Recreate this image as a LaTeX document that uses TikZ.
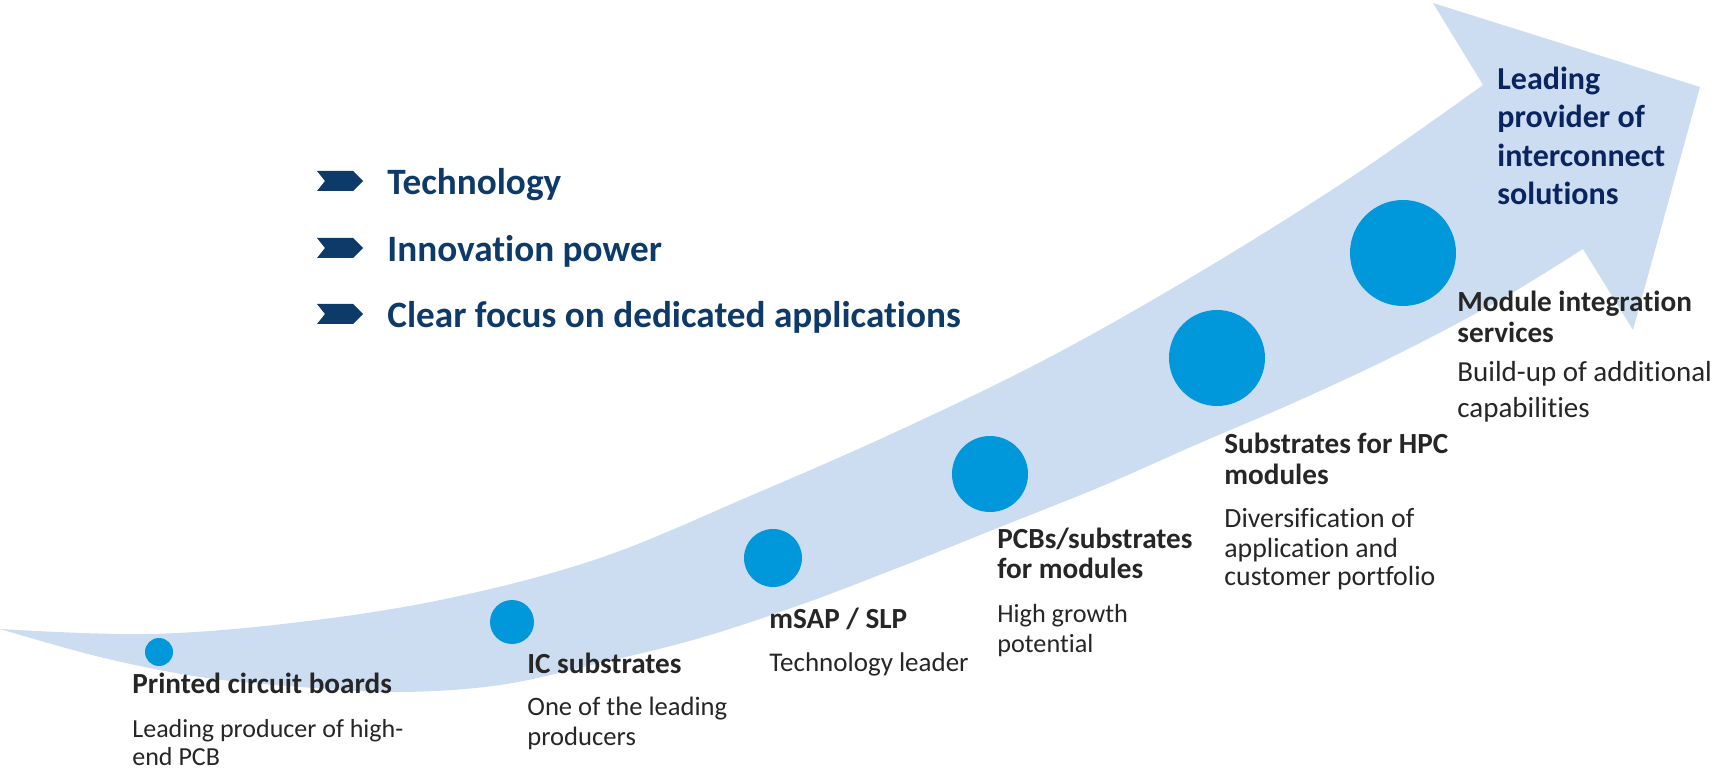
\documentclass[tikz,border=0pt]{standalone}
\usepackage{fontspec}
\setmainfont{Carlito}[Ligatures=NoCommon]
\definecolor{arrowfill}{RGB}{204,221,241}
\definecolor{dotblue}{RGB}{0,151,219}
\definecolor{navy}{RGB}{14,58,106}
\definecolor{deepnavy}{RGB}{10,36,96}
\definecolor{labelgray}{RGB}{38,38,38}
\tikzset{
  dot/.style={circle,fill=dotblue,inner sep=0pt,minimum size=#1},
  chev/.style={fill=navy},
  bullettext/.style={anchor=base west,inner sep=0pt,text=navy,font=\fontsize{18.6}{22}\selectfont\bfseries},
  goaltext/.style={anchor=base west,inner sep=0pt,text=deepnavy,font=\fontsize{16}{19}\selectfont\bfseries},
  stagehead/.style={anchor=base west,inner sep=0pt,text=labelgray,font=\fontsize{14.6}{17}\selectfont\bfseries},
  stagedesc/.style={anchor=base west,inner sep=0pt,text=labelgray,font=\fontsize{#1}{16}\selectfont},
  stagedesc/.default=13.2,
}
\begin{document}
\begin{tikzpicture}[x=0.5pt,y=-0.5pt]
\useasboundingbox (0,0) rectangle (1715,770);
% big arrow
\fill[arrowfill] plot[smooth,tension=0.6] coordinates {(0,629) (150,634) (300,622) (450,598) (600,558) (750,496) (900,430) (1050,357) (1200,272) (1350,178) (1483,85)}
  -- (1433,3) -- (1700,87) -- (1633,330) -- (1583,249)
  -- plot[smooth,tension=0.6] coordinates {(1583,249) (1500,300) (1400,353) (1300,400) (1200,443) (1100,487) (1000,527) (900,567) (800,605) (700,638) (600,663) (500,685) (400,692) (300,687) (200,677) (100,657) (0,629)} -- cycle;
% dots
\node[dot=28*0.5pt] (d1) at (159,652) {};
\node[dot=44*0.5pt] (d2) at (512,622) {};
\node[dot=58*0.5pt] (d3) at (773,558) {};
\node[dot=76*0.5pt] (d4) at (990,474) {};
\node[dot=96*0.5pt] (d5) at (1217,358) {};
\node[dot=106*0.5pt] (d6) at (1403,253) {};
% bullets
\foreach \yy in {181,248,314}{
  \fill[chev] (317,\yy-10) -- (353,\yy-10) -- (363,\yy) -- (353,\yy+10) -- (317,\yy+10) -- (325,\yy) -- cycle;
}
\node[bullettext] (b1) at (387,195) {Technology};
\node[bullettext] (b2) at (387,262) {Innovation power};
\node[bullettext] (b3) at (387,328) {Clear focus on dedicated applications};
% goal
\node[goaltext] (g1) at (1497,90) {Leading};
\node[goaltext] (g2) at (1497,128) {provider of};
\node[goaltext] (g3) at (1497,167) {interconnect};
\node[goaltext] (g4) at (1497,205) {solutions};
% stage 1
\node[stagehead] (h1) at (132,693) {Printed circuit boards};
\node[stagedesc=13] (t1a) at (132,737) {Leading producer of high-};
\node[stagedesc=13] (t1b) at (132,765) {end PCB};
% stage 2
\node[stagehead] (h2) at (527,673) {IC substrates};
\node[stagedesc=13.3] (t2a) at (527,715) {One of the leading};
\node[stagedesc=13.3] (t2b) at (527,745) {producers};
% stage 3
\node[stagehead] (h3) at (769,628) {mSAP / SLP};
\node[stagedesc=13.5] (t3a) at (769,671) {Technology leader};
% stage 4
\node[stagehead] (h4a) at (997,548) {PCBs/substrates};
\node[stagehead] (h4b) at (997,578) {for modules};
\node[stagedesc=13.1] (t4a) at (997,622) {High growth};
\node[stagedesc=13.1] (t4b) at (997,652) {potential};
% stage 5
\node[stagehead] (h5a) at (1224,453) {Substrates for HPC};
\node[stagehead] (h5b) at (1224,485) {modules};
\node[stagedesc=13.9] (t5a) at (1224,527) {Diversification of};
\node[stagedesc=13.9] (t5b) at (1224,557) {application and};
\node[stagedesc=13.9] (t5c) at (1224,585) {customer portfolio};
% stage 6
\node[stagehead] (h6a) at (1457,312) {Module integration};
\node[stagehead] (h6b) at (1457,343) {services};
\node[stagedesc=14.5] (t6a) at (1457,382) {Build-up of additional};
\node[stagedesc=14.5] (t6b) at (1457,417) {capabilities};
\end{tikzpicture}
\end{document}
